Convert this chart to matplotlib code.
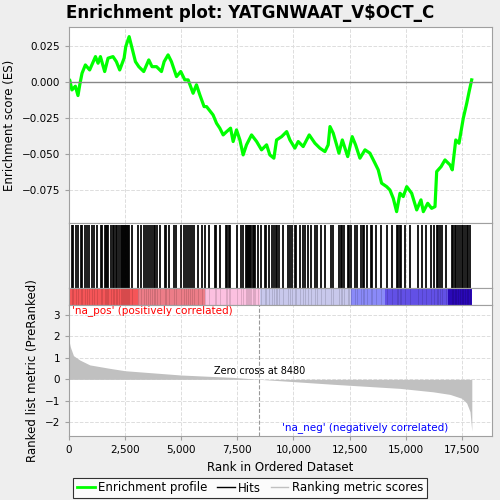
import matplotlib
matplotlib.use("Agg")
import matplotlib.pyplot as plt
from matplotlib.lines import Line2D

# Running enrichment score
es_rank = [0, 30, 130, 285, 400, 480, 580, 730, 920, 1180, 1295, 1400, 1590, 1740, 1960, 2110,
           2260, 2455, 2530, 2680, 2810, 2960, 3110, 3330, 3555, 3700, 3900, 4120, 4240, 4415,
           4565, 4790, 4980, 5160, 5310, 5530, 5680, 5830, 6020, 6130, 6420, 6575, 6720, 6870,
           7025, 7200, 7315, 7465, 7615, 7760, 7910, 8135, 8360, 8580, 8805, 8950, 9130, 9250,
           9475, 9700, 9845, 10065, 10215, 10435, 10705, 10960, 11180, 11405, 11550, 11630,
           11775, 11925, 12030, 12180, 12420, 12620, 12770, 12965, 13190, 13410, 13635, 13780,
           13930, 14155, 14300, 14450, 14600, 14750, 14895, 15050, 15270, 15495, 15685, 15790,
           15985, 16160, 16310, 16385, 16580, 16755, 16980, 17080, 17235, 17380, 17570, 17725,
           17830, 17945]
es_val = [0.0, 0.0014, -0.0056, -0.003, -0.0095, -0.002, 0.006, 0.0118, 0.0083, 0.0176, 0.013,
          0.0176, 0.0072, 0.0165, 0.0176, 0.0141, 0.0083, 0.0165, 0.0246, 0.0315, 0.0235, 0.0141,
          0.0106, 0.0072, 0.0153, 0.0106, 0.0106, 0.0072, 0.0141, 0.0188, 0.0141, 0.0037, 0.0072,
          0.0014, 0.0014, -0.0079, -0.002, -0.009, -0.0172, -0.0172, -0.023, -0.0288, -0.0322,
          -0.0369, -0.0346, -0.0322, -0.0415, -0.0334, -0.0404, -0.0508, -0.0438, -0.0369,
          -0.0415, -0.0473, -0.0438, -0.0508, -0.0531, -0.0404, -0.0381, -0.0346, -0.0404,
          -0.0461, -0.0415, -0.045, -0.0369, -0.0427, -0.0461, -0.0485, -0.0438, -0.0311,
          -0.0357, -0.0438, -0.0496, -0.0404, -0.052, -0.0381, -0.0438, -0.0531, -0.0473,
          -0.0496, -0.0566, -0.0612, -0.0705, -0.0729, -0.0752, -0.081, -0.0903, -0.0775,
          -0.0798, -0.0729, -0.0775, -0.0891, -0.0821, -0.0903, -0.0845, -0.088, -0.0868,
          -0.0624, -0.059, -0.0543, -0.0578, -0.0612, -0.0404, -0.0427, -0.0253, -0.0148,
          -0.0068, 0.0014]

# positions of the gene set members in the ranked list
hits = [130, 200, 330, 400, 520, 600, 720, 790, 880, 1020, 1100, 1250, 1420, 1460, 1590, 1650,
        1710, 1750, 1860, 1960, 2020, 2080, 2130, 2250, 2300, 2350, 2400, 2450, 2500, 2550, 2600,
        2650, 2690, 2820, 3080, 3200, 3340, 3420, 3520, 3600, 3700, 3770, 3850, 3930, 4050, 4270,
        4330, 4460, 4690, 4760, 4990, 5130, 5200, 5310, 5390, 5490, 5550, 5740, 5910, 6070, 6230,
        6490, 6560, 6750, 6990, 7050, 7110, 7170, 7490, 7680, 7740, 7880, 7930, 7980, 8030, 8080,
        8130, 8180, 8230, 8270, 8420, 8570, 8720, 8780, 8900, 9040, 9120, 9220, 9280, 9380, 9520,
        9760, 9840, 9950, 10050, 10120, 10280, 10420, 10530, 10630, 10780, 10980, 11030, 11250,
        11430, 11690, 11770, 12030, 12100, 12180, 12240, 12420, 12490, 12560, 12760, 12830,
        13010, 13080, 13150, 13300, 13460, 13510, 13690, 13900, 14180, 14410, 14610, 14680,
        14750, 14810, 14960, 15190, 15540, 15740, 15930, 16120, 16260, 16390, 16450, 16520,
        16640, 16820, 17070, 17130, 17190, 17250, 17320, 17440, 17510, 17570, 17660, 17720,
        17780, 17850]

# ranked list metric
metric_rank = [0, 60, 200, 475, 925, 1815, 2490, 5000, 7300, 8480, 11780, 14750, 16230, 16980,
               17500, 17720, 17870, 17950]
metric_val = [1.8, 1.5, 1.1, 0.9, 0.67, 0.51, 0.4, 0.2, 0.09, 0.0, -0.23, -0.42, -0.58, -0.7,
              -0.88, -1.1, -1.5, -2.4]

# colour bar bands under the hits
band_start = [0, 3070, 6060, 8510, 12570, 14090, 16900]
band_end = [3070, 6060, 8510, 12570, 14090, 16900, 17950]
band_col = ["#f55558", "#ec7d88", "#fcc0e0", "#c8c8ec", "#8a8af8", "#6250e6", "#2a08b8"]

n_genes = 17950
zero_cross = 8480
x_max = 18850

fig = plt.figure(figsize=(5, 5), dpi=100, facecolor="#eeeeee")
fig.suptitle(r"Enrichment plot: YATGNWAAT_V\$OCT_C", fontsize=12, fontweight="bold", y=0.993)

spine_col = "#a0a0a0"
grid_kw = dict(color="#dddddd", linestyle="--", linewidth=0.7)

# ES panel
ax1 = fig.add_axes([0.138, 0.554, 0.846, 0.392])
ax1.plot(es_rank, es_val, color="#00ff00", linewidth=2.3)
ax1.axhline(0, color="#888888", linewidth=1)
ax1.set_xlim(0, x_max)
ax1.set_ylim(-0.0982, 0.0382)
ax1.set_yticks([0.025, 0.0, -0.025, -0.05, -0.075])
ax1.set_yticklabels(["0.025", "0.000", "\u22120.025", "\u22120.050", "\u22120.075"])
ax1.set_xticks(range(0, 17501, 2500))
ax1.tick_params(axis="x", bottom=False, labelbottom=False)
ax1.tick_params(axis="y", labelsize=7.5, length=3, color=spine_col)
ax1.grid(True, **grid_kw)
ax1.set_axisbelow(True)
ax1.set_ylabel("Enrichment score (ES)", fontsize=8.5)

# hits panel
ax2 = fig.add_axes([0.138, 0.424, 0.846, 0.13])
ax2.vlines(hits, 0, 1, color="black", linewidth=1.25)
ax2.set_xlim(0, x_max)
ax2.set_ylim(0, 1.03)
ax2.set_xticks(range(0, 17501, 2500))
ax2.grid(True, axis="x", **grid_kw)
ax2.set_axisbelow(True)
ax2.tick_params(bottom=False, left=False, labelbottom=False, labelleft=False)

# colour bar
ax3 = fig.add_axes([0.138, 0.39, 0.846, 0.034])
widths = [e - s for s, e in zip(band_start, band_end)]
ax3.bar(band_start, [1] * len(band_start), width=widths, align="edge", color=band_col, linewidth=0)
ax3.vlines(hits, 0, 1, color="black", linewidth=0.6, alpha=0.15)
ax3.set_xlim(0, x_max)
ax3.set_ylim(0, 1)
ax3.tick_params(bottom=False, left=False, labelbottom=False, labelleft=False)

# ranked metric panel
ax4 = fig.add_axes([0.138, 0.128, 0.846, 0.262])
ax4.fill_between(metric_rank, metric_val, 0, color="#c0c0c0", linewidth=0)
ax4.axvline(zero_cross, color="#999999", linestyle="--", linewidth=0.8)
ax4.set_xlim(0, x_max)
ax4.set_ylim(-2.63, 3.45)
ax4.set_yticks([3, 2, 1, 0, -1, -2])
ax4.set_yticklabels(["3", "2", "1", "0", "\u22121", "\u22122"])
ax4.set_xticks(range(0, 17501, 2500))
ax4.set_xticklabels([f"{v:,}" for v in range(0, 17501, 2500)])
ax4.tick_params(labelsize=7.5, length=3, color=spine_col)
ax4.grid(True, **grid_kw)
ax4.set_axisbelow(True)
ax4.set_xlabel("Rank in Ordered Dataset", fontsize=8.5)
ax4.set_ylabel("Ranked list metric (PreRanked)", fontsize=8.5)
ax4.text(150, 3.2, "'na_pos' (positively correlated)", color="red", fontsize=7.5, va="center")
ax4.text(9500, -2.23, "'na_neg' (negatively correlated)", color="blue", fontsize=7.5, va="center")
ax4.text(zero_cross, 0.4, "Zero cross at " + str(zero_cross), fontsize=7, ha="center", va="center")

for ax in (ax1, ax2, ax3, ax4):
    for sp in ax.spines.values():
        sp.set_color(spine_col)

handles = [Line2D([], [], color="#00ff00", linewidth=2),
           Line2D([], [], color="black", linewidth=1),
           Line2D([], [], color="#c0c0c0", linewidth=1)]
leg = fig.legend(handles, ["Enrichment profile", "Hits", "Ranking metric scores"], loc="center",
                 bbox_to_anchor=(0.5, 0.024), ncol=3, fontsize=8.5, frameon=True, fancybox=False,
                 edgecolor="black", handlelength=1.5, handletextpad=0.3, columnspacing=0.8,
                 borderpad=0.3)
leg.get_frame().set_linewidth(0.8)

fig.savefig("out.png", dpi=100, facecolor=fig.get_facecolor())
